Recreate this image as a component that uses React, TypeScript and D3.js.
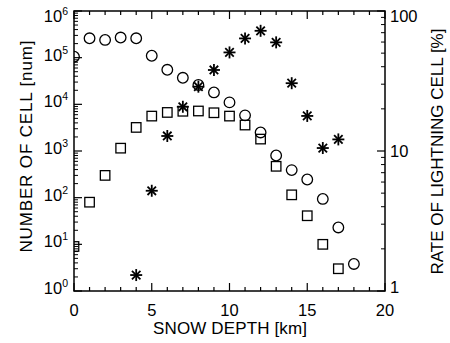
import React from "react";
import * as d3 from "d3";

// snow depth (km) for each bin
const depthAll = [0, 1, 2, 3, 4, 5, 6, 7, 8, 9, 10, 11, 12, 13, 14, 15, 16, 17, 18];
// number of all cells (circles)
const allCells = [1.05e5, 2.6e5, 2.4e5, 2.7e5, 2.6e5, 1.1e5, 5.5e4, 3.7e4, 2.6e4, 1.8e4, 1.1e4, 5.8e3, 2.5e3, 800, 390, 245, 94, 23, 3.8];
// number of lightning cells (squares)
const depthLightning = [0, 1, 2, 3, 4, 5, 6, 7, 8, 9, 10, 11, 12, 13, 14, 15, 16, 17];
const lightningCells = [9, 80, 300, 1150, 3200, 5600, 6700, 7100, 7200, 6600, 5600, 3600, 1800, 470, 115, 41, 10, 3.0];
// rate of lightning cell in % (asterisks, right axis)
const depthRate = [4, 5, 6, 7, 8, 9, 10, 11, 12, 13, 14, 15, 16, 17];
const rate = [1.3, 5.2, 12.8, 20.7, 28.8, 37.9, 50.6, 63.7, 72.2, 59.7, 30.5, 17.8, 10.5, 12.1];

const xTicks = [0, 5, 10, 15, 20];
const leftExps = [0, 1, 2, 3, 4, 5, 6];
const rightTicks = [1, 10, 100];

const W = 450;
const H = 343;
const left = 74, right = 385, top = 11, bottom = 291;
const font = "'Liberation Sans', Arial, Helvetica, sans-serif";

export default function App() {
  const x = d3.scaleLinear().domain([0, 20]).range([left, right]);
  const yL = d3.scaleLog().domain([1, 1e6]).range([bottom, top]);
  const yR = d3.scaleLog().domain([1, 100]).range([bottom, top]);

  // minor ticks for log axes
  const leftMinor: number[] = [];
  for (let e = 0; e < 6; e++) for (let m = 2; m <= 9; m++) leftMinor.push(m * Math.pow(10, e));
  const rightMinor: number[] = [];
  for (let e = 0; e < 2; e++) for (let m = 2; m <= 9; m++) rightMinor.push(m * Math.pow(10, e));

  const star = (cx: number, cy: number, k: number) => {
    const r = 6;
    const d = r * Math.SQRT1_2;
    return (
      <g key={k} stroke="#000" strokeWidth={1.8}>
        <line x1={cx - r} y1={cy} x2={cx + r} y2={cy} />
        <line x1={cx} y1={cy - r} x2={cx} y2={cy + r} />
        <line x1={cx - d} y1={cy - d} x2={cx + d} y2={cy + d} />
        <line x1={cx - d} y1={cy + d} x2={cx + d} y2={cy - d} />
      </g>
    );
  };

  return (
    <div style={{ position: "fixed", left: 0, top: 0 }}>
      <svg width={W} height={H} style={{ display: "block", background: "#fff" }} fontFamily={font}>
        <defs>
          <clipPath id="plotClip">
            <rect x={left} y={0} width={W - left} height={H} />
          </clipPath>
        </defs>

        {/* frame */}
        <rect x={left} y={top} width={right - left} height={bottom - top} fill="none" stroke="#000" strokeWidth={1.5} />

        {/* x ticks, bottom and top */}
        {d3.range(0, 21).map((v) => {
          const len = v % 5 === 0 ? 8 : 4;
          return (
            <g key={"xt" + v} stroke="#000" strokeWidth={1.2}>
              <line x1={x(v)} x2={x(v)} y1={bottom} y2={bottom - len} />
              <line x1={x(v)} x2={x(v)} y1={top} y2={top + len} />
            </g>
          );
        })}
        {xTicks.map((v) => (
          <text key={"xl" + v} x={x(v)} y={316} fontSize={16.5} textAnchor="middle">
            {v}
          </text>
        ))}

        {/* left axis ticks */}
        {leftExps.map((e) => (
          <line key={"lM" + e} x1={left} x2={left + 8} y1={yL(Math.pow(10, e))} y2={yL(Math.pow(10, e))} stroke="#000" strokeWidth={1.2} />
        ))}
        {leftMinor.map((v, i) => (
          <line key={"lm" + i} x1={left} x2={left + 4} y1={yL(v)} y2={yL(v)} stroke="#000" strokeWidth={1} />
        ))}
        {leftExps.map((e) => (
          <text key={"ll" + e} x={68} y={Math.max(22, Math.min(294, yL(Math.pow(10, e)) + 3))} fontSize={16.5} textAnchor="end">
            10
            <tspan fontSize={10.5} dy={-7}>
              {e}
            </tspan>
          </text>
        ))}

        {/* right axis ticks */}
        {rightTicks.map((v) => (
          <line key={"rM" + v} x1={right} x2={right - 8} y1={yR(v)} y2={yR(v)} stroke="#000" strokeWidth={1.2} />
        ))}
        {rightMinor.map((v, i) => (
          <line key={"rm" + i} x1={right} x2={right - 4} y1={yR(v)} y2={yR(v)} stroke="#000" strokeWidth={1} />
        ))}
        {rightTicks.map((v) => (
          <text key={"rl" + v} x={390} y={Math.max(22, Math.min(293, yR(v) + 6))} fontSize={16.5} textAnchor="start">
            {v}
          </text>
        ))}

        {/* axis titles */}
        <text x={230} y={334} fontSize={17} textAnchor="middle" textLength={154} lengthAdjust="spacing">
          SNOW DEPTH [km]
        </text>
        <text transform={`translate(32,146.5) rotate(-90)`} fontSize={17} textAnchor="middle" textLength={212} lengthAdjust="spacing">
          NUMBER OF CELL [num]
        </text>
        <text transform={`translate(443,151.5) rotate(-90)`} fontSize={17} textAnchor="middle" textLength={246} lengthAdjust="spacing">
          RATE OF LIGHTNING CELL [%]
        </text>

        {/* data */}
        <g clipPath="url(#plotClip)">
          {allCells.map((v, i) => (
            <circle key={"c" + i} cx={x(depthAll[i])} cy={yL(v)} r={5.3} fill="none" stroke="#000" strokeWidth={1.3} />
          ))}
          {lightningCells.map((v, i) => (
            <rect key={"s" + i} x={x(depthLightning[i]) - 4.75} y={yL(v) - 4.75} width={9.5} height={9.5} fill="none" stroke="#000" strokeWidth={1.3} />
          ))}
          {rate.map((v, i) => star(x(depthRate[i]), yR(v), i))}
        </g>
      </svg>
    </div>
  );
}
